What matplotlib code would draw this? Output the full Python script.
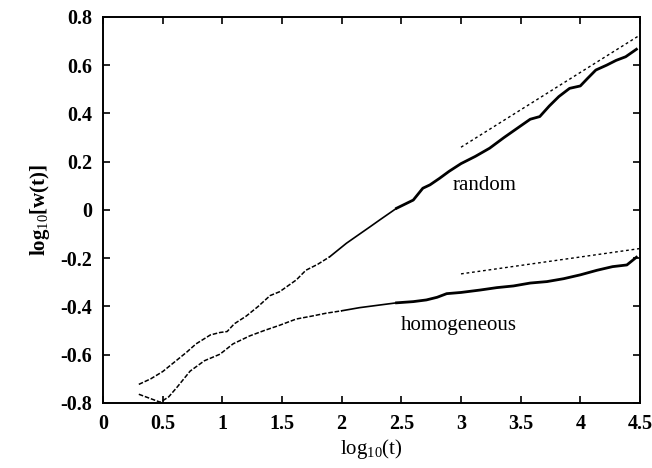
import numpy as np
import matplotlib.pyplot as plt

plt.rcParams['font.family'] = ['Liberation Serif', 'DejaVu Serif']
plt.rcParams['mathtext.fontset'] = 'custom'
plt.rcParams['mathtext.rm'] = 'Liberation Serif'
plt.rcParams['mathtext.it'] = 'Liberation Serif:italic'
plt.rcParams['mathtext.bf'] = 'Liberation Serif:bold'

# values
random_x = [0.30, 0.40, 0.50, 0.62, 0.70, 0.78, 0.90, 0.98, 1.04, 1.10, 1.20, 1.30,
            1.40, 1.48, 1.54, 1.62, 1.70, 1.80, 1.90, 2.04, 2.15, 2.24, 2.32, 2.46,
            2.60, 2.68, 2.74, 2.82, 2.90, 3.00, 3.12, 3.24, 3.36, 3.49, 3.58, 3.66,
            3.74, 3.82, 3.91, 4.00, 4.06, 4.13, 4.22, 4.30, 4.38, 4.47]
random_y = [-0.723, -0.700, -0.670, -0.622, -0.590, -0.555, -0.518, -0.508, -0.504,
            -0.472, -0.440, -0.400, -0.355, -0.339, -0.318, -0.290, -0.250, -0.225,
            -0.194, -0.138, -0.100, -0.069, -0.041, 0.007, 0.041, 0.090, 0.104, 0.131,
            0.160, 0.192, 0.222, 0.256, 0.300, 0.345, 0.376, 0.387, 0.431, 0.470,
            0.504, 0.514, 0.545, 0.580, 0.600, 0.620, 0.635, 0.666]

homog_x = [0.30, 0.48, 0.55, 0.62, 0.73, 0.85, 0.98, 1.09, 1.23, 1.35, 1.48, 1.62,
           1.75, 1.87, 2.00, 2.15, 2.32, 2.46, 2.60, 2.71, 2.80, 2.88, 3.00, 3.16,
           3.30, 3.44, 3.58, 3.72, 3.86, 4.00, 4.14, 4.27, 4.39, 4.47]
homog_y = [-0.764, -0.797, -0.775, -0.735, -0.668, -0.625, -0.598, -0.555, -0.522,
           -0.500, -0.478, -0.452, -0.440, -0.428, -0.418, -0.405, -0.394, -0.385,
           -0.380, -0.373, -0.362, -0.347, -0.342, -0.332, -0.322, -0.315, -0.303,
           -0.297, -0.285, -0.269, -0.250, -0.235, -0.228, -0.196]

fit_random_x = [3.0, 4.5]
fit_random_y = [0.26, 0.725]
fit_homog_x = [3.0, 4.5]
fit_homog_y = [-0.265, -0.16]

xticks = [0, 0.5, 1, 1.5, 2, 2.5, 3, 3.5, 4, 4.5]
xticklabels = ['0', '0.5', '1', '1.5', '2', '2.5', '3', '3.5', '4', '4.5']
yticks = [-0.8, -0.6, -0.4, -0.2, 0, 0.2, 0.4, 0.6, 0.8]
yticklabels = ['-0.8', '-0.6', '-0.4', '-0.2', '0', '0.2', '0.4', '0.6', '0.8']

# sparse early points look dashed, dense late points look thick
split_dash = 2.0
split_thick = 2.5

fig = plt.figure(figsize=(6.52, 4.68), dpi=100)
ax = fig.add_axes([0.158, 0.139, 0.8236, 0.8248])

for xs, ys in [(random_x, random_y), (homog_x, homog_y)]:
    xs = np.array(xs)
    ys = np.array(ys)
    i1 = np.where(xs <= split_dash)[0][-1]
    i2 = np.where(xs <= split_thick)[0][-1]
    ax.plot(xs[:i1 + 1], ys[:i1 + 1], color='black', lw=1.1, ls=(0, (3, 1.2)))
    ax.plot(xs[i1:i2 + 1], ys[i1:i2 + 1], color='black', lw=1.2)
    ax.plot(xs[i2:], ys[i2:], color='black', lw=2.0)

ax.plot(fit_random_x, fit_random_y, color='black', lw=1.0, ls=(0, (2, 2)))
ax.plot(fit_homog_x, fit_homog_y, color='black', lw=1.0, ls=(0, (2, 2)))

ax.text(3.195, 0.10, 'random', fontsize=15, ha='center', va='center')
ax.text(2.98, -0.477, 'homogeneous', fontsize=15, ha='center', va='center')

ax.set_xlim(0, 4.5)
ax.set_ylim(-0.8, 0.8)
ax.set_xticks(xticks)
ax.set_xticklabels(xticklabels, fontsize=14.5, fontweight='bold')
ax.set_yticks(yticks)
ax.set_yticklabels(yticklabels, fontsize=14.5, fontweight='bold')
ax.tick_params(direction='in', top=True, right=True, length=5, width=1.2, pad=8)
for s in ax.spines.values():
    s.set_linewidth(1.4)

ax.set_xlabel(r'log$_{10}$(t)', fontsize=15, labelpad=2)
ax.set_ylabel(r'log$_{10}$[w(t)]', fontsize=15, fontweight='bold', labelpad=6)

fig.savefig('out.png', dpi=100)
